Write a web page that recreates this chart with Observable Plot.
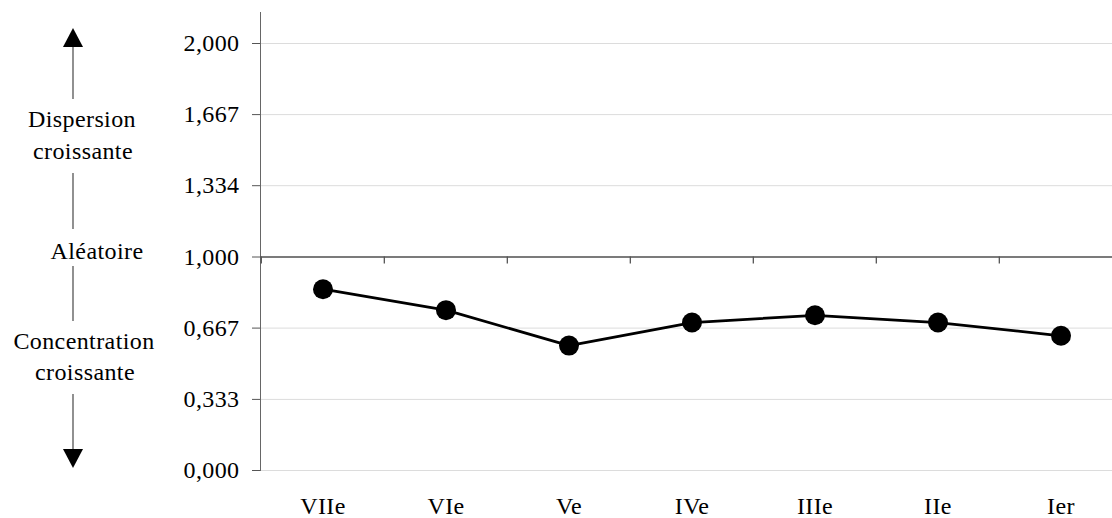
<!DOCTYPE html>
<html><head><meta charset="utf-8">
<script src="https://cdn.jsdelivr.net/npm/d3@7"></script>
<script src="https://cdn.jsdelivr.net/npm/@observablehq/plot@0.6"></script>
<style>
body{margin:0;background:#fff;overflow:hidden}
svg text{letter-spacing:0.4px}
</style>
</head><body><div id="chart"></div>
<script>
const periods = ["VIIe","VIe","Ve","IVe","IIIe","IIe","Ier"];
const indexValues = [0.849, 0.751, 0.585, 0.693, 0.727, 0.693, 0.631];
const yTicks = [0, 0.333, 0.667, 1.000, 1.334, 1.667, 2.000];
const yTickLabels = ["0,000","0,333","0,667","1,000","1,334","1,667","2,000"];
const sideLabels = [
  {text: "Dispersion", y: 1.607, x: 82},
  {text: "croissante", y: 1.457, x: 83},
  {text: "Aléatoire", y: 0.988, x: 97},
  {text: "Concentration", y: 0.567, x: 84},
  {text: "croissante", y: 0.422, x: 85}
];
const sideRules = [[1.981, 1.738], [1.391, 1.129], [0.955, 0.698], [0.356, 0.098]];

const data = periods.map((p, i) => ({period: p, value: indexValues[i]}));
const xRange = [260, 1123.5];
const bandwidth = (xRange[1] - xRange[0]) / periods.length;

const chart = Plot.plot({
  width: 1112, height: 518,
  marginLeft: 260, marginRight: 0, marginTop: 12, marginBottom: 48,
  style: {fontFamily: "'Liberation Serif', 'Times New Roman', serif", fontSize: "24px", background: "#fff", color: "#000"},
  x: {type: "band", domain: periods, range: xRange, padding: 0, label: null},
  y: {domain: [0, 2.1452], range: [470, 12], label: null},
  marks: [
    Plot.gridY(yTicks, {stroke: "#dcdcdc", strokeOpacity: 1}),
    Plot.frame({anchor: "left", stroke: "#666"}),
    Plot.ruleY([1], {stroke: "#555", strokeWidth: 1.3}),
    Plot.ruleX(periods, {x: d => d, y1: 1, y2: 1 - 7 / 213.5, dx: -bandwidth / 2, stroke: "#555", strokeWidth: 1.3}),
    Plot.axisY(yTicks, {tickSize: 8, tickPadding: 13, stroke: "#555", fontSize: 24, label: null,
      tickFormat: d => yTickLabels[yTicks.indexOf(d)]}),
    Plot.axisX({tickSize: 0, tickPadding: 26, fontSize: 24, label: null}),
    Plot.line(data, {x: "period", y: "value", stroke: "#000", strokeWidth: 2.8}),
    Plot.dot(data, {x: "period", y: "value", r: 10, fill: "#000"})
  ]
});

// side annotations positioned with the chart's y scale
const yS = chart.scale("y");
const svg = d3.select(chart);
const g = svg.append("g").attr("fill", "#000");
const ax = 73;
for (const [a, b] of sideRules) {
  g.append("line").attr("x1", ax).attr("x2", ax).attr("y1", yS.apply(a)).attr("y2", yS.apply(b))
    .attr("stroke", "#555").attr("stroke-width", 1.3);
}
{
  const tip = yS.apply(2.070), base = yS.apply(1.981);
  g.append("path").attr("d", `M${ax},${tip}L${ax + 10},${base}L${ax - 10},${base}Z`);
}
{
  const base = yS.apply(0.098), tip = yS.apply(0.009);
  g.append("path").attr("d", `M${ax - 10},${base}L${ax + 10},${base}L${ax},${tip}Z`);
}
for (const s of sideLabels) {
  g.append("text").attr("x", s.x).attr("y", yS.apply(s.y)).attr("text-anchor", "middle")
    .attr("font-size", 24).text(s.text);
}
document.getElementById("chart").append(chart);
</script>
</body></html>
